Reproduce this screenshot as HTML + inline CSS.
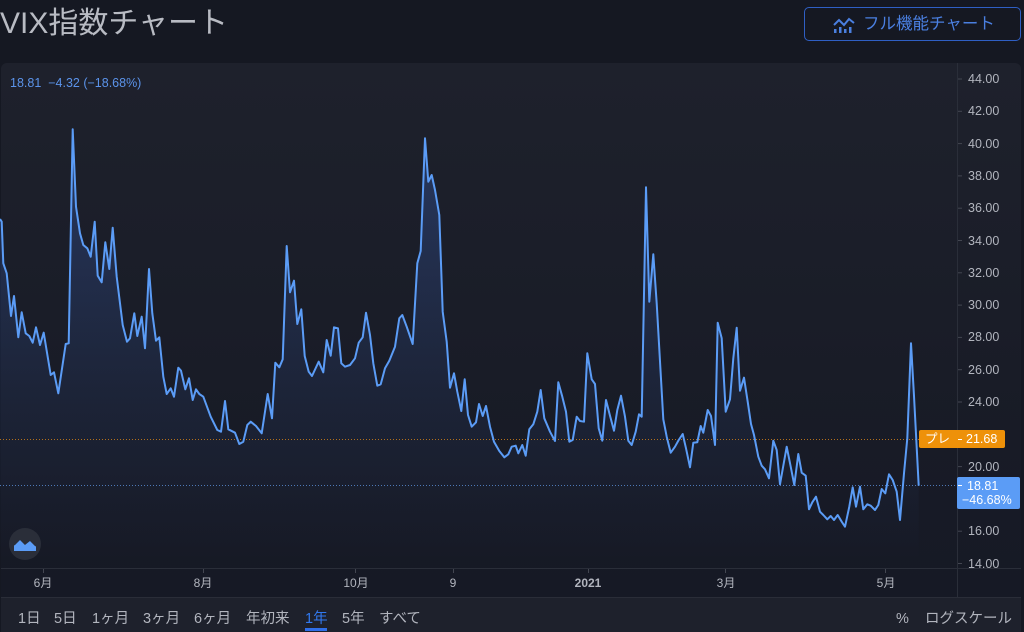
<!DOCTYPE html>
<html>
<head>
<meta charset="utf-8">
<style>
  html,body{margin:0;padding:0;}
  body{width:1024px;height:631px;background:#151822;position:relative;overflow:hidden;
    font-family:"Liberation Sans","Noto Sans CJK JP",sans-serif;}
  .abs{position:absolute;white-space:nowrap;}
  #title{left:0;top:9px;font-size:30px;line-height:30px;color:#b8bbc3;}
  #btn{left:804px;top:7px;width:217px;height:34px;border:1px solid #2f5fc4;border-radius:5px;box-sizing:border-box;}
  #btn span{position:absolute;left:58px;top:7px;font-size:16.5px;line-height:18px;color:#4a7fe0;}
  #panel{left:1px;top:63px;width:1020px;height:534px;border-radius:6px 6px 0 0;
    background:linear-gradient(#1e212c,#181b26 70%,#161925);}
  #bar{left:1px;top:597px;width:1020px;height:34px;background:#1e212c;border-top:1px solid #2a2d38;}
  .rb{position:absolute;top:611px;font-size:14.5px;line-height:16px;color:#b2b5be;}
  .pl{position:absolute;left:968px;font-size:12.5px;line-height:14px;color:#b2b5be;}
  .xl{position:absolute;top:576px;font-size:12px;line-height:14px;color:#b2b5be;transform:translateX(-50%);}
  #readout{left:10px;top:76px;font-size:12.5px;line-height:14px;color:#5b93ea;}
</style>
</head>
<body>
<div class="abs" id="title">VIX指数チャート</div>
<div class="abs" id="btn">
  <svg style="position:absolute;left:28px;top:8px" width="22" height="18" viewBox="0 0 22 18">
    <polyline points="1,9 6,4 11,9 16,3 21,7" fill="none" stroke="#4a7fe0" stroke-width="2"/>
    <rect x="1" y="13" width="2.5" height="4" fill="#4a7fe0"/>
    <rect x="6" y="11" width="2.5" height="6" fill="#4a7fe0"/>
    <rect x="11" y="13" width="2.5" height="4" fill="#4a7fe0"/>
    <rect x="16" y="11" width="2.5" height="6" fill="#4a7fe0"/>
  </svg>
  <span>フル機能チャート</span>
</div>
<div class="abs" id="panel"></div>
<div class="abs" id="bar"></div>

<svg class="abs" style="left:0;top:0" width="1024" height="631" viewBox="0 0 1024 631">
  <defs>
    <linearGradient id="fillg" gradientUnits="userSpaceOnUse" x1="0" y1="130" x2="0" y2="560">
      <stop offset="0" stop-color="#3f6fd8" stop-opacity="0.30"/>
      <stop offset="0.6" stop-color="#3f6fd8" stop-opacity="0.10"/>
      <stop offset="1" stop-color="#3f6fd8" stop-opacity="0.0"/>
    </linearGradient>
  </defs>
  <line x1="957.5" y1="63" x2="957.5" y2="597" stroke="#2a2e39" stroke-width="1"/>
  <line x1="1" y1="568.5" x2="1021" y2="568.5" stroke="#2a2e39" stroke-width="1"/>
  <g stroke="#434651" stroke-width="1">
    <line x1="958" y1="79" x2="962" y2="79"/>
    <line x1="958" y1="111.3" x2="962" y2="111.3"/>
    <line x1="958" y1="143.6" x2="962" y2="143.6"/>
    <line x1="958" y1="175.9" x2="962" y2="175.9"/>
    <line x1="958" y1="208.2" x2="962" y2="208.2"/>
    <line x1="958" y1="240.5" x2="962" y2="240.5"/>
    <line x1="958" y1="272.8" x2="962" y2="272.8"/>
    <line x1="958" y1="305.1" x2="962" y2="305.1"/>
    <line x1="958" y1="337.4" x2="962" y2="337.4"/>
    <line x1="958" y1="369.7" x2="962" y2="369.7"/>
    <line x1="958" y1="402" x2="962" y2="402"/>
    <line x1="958" y1="466.6" x2="962" y2="466.6"/>
    <line x1="958" y1="531.2" x2="962" y2="531.2"/>
    <line x1="958" y1="563.5" x2="962" y2="563.5"/>
  </g>
  <g stroke="#434651" stroke-width="1">
    <line x1="43.5" y1="569" x2="43.5" y2="573"/>
    <line x1="203.5" y1="569" x2="203.5" y2="573"/>
    <line x1="355.5" y1="569" x2="355.5" y2="573"/>
    <line x1="453.5" y1="569" x2="453.5" y2="573"/>
    <line x1="588.5" y1="569" x2="588.5" y2="573"/>
    <line x1="725.5" y1="569" x2="725.5" y2="573"/>
    <line x1="885.5" y1="569" x2="885.5" y2="573"/>
  </g>
  <polygon fill="url(#fillg)" points="0,219 1.7,221.7 3.3,263.3 6.7,273.3 11,316 14,296 18.3,337.3 21.7,312.3 25.7,333.3 29.3,336 32.7,342.7 36,327.3 40,345 43.7,332.7 50.7,375 54,372.3 58.3,393.3 65.7,344 68.7,343.3 72.7,129.3 76,206.7 80,233.3 83.3,245 87.3,248.3 90.7,256.7 94.7,221.7 97.7,275.7 101.7,282.3 105.3,242.3 109.3,269 112.7,227.7 116.7,276.7 122.7,325 127,341.7 130,338.3 134.3,313.3 137.3,336 141.7,316.7 145,348.3 149,269 152.3,313.3 156,340.7 159.3,337.3 163.3,376.7 166.7,394 170.7,388.3 174,396.7 178.3,367.7 181,370.7 185.3,389.3 189,378.3 192.7,400 196,389.3 199.3,394 203.3,396.7 210.7,416.7 217.3,430 221,431.7 225,401 228.3,429.3 235,432.7 239.3,444 243.3,441.7 247.3,425 250.7,421.7 256,426 261.7,433.3 267.7,394 272,418.3 275.3,362.7 279.3,367.3 282.7,359.3 286.7,246 290,292.3 294,280.7 297.3,324 301.3,309.3 304.7,356 308.7,371.7 312,376 318.7,361.7 323.3,372.3 326.7,340 330.7,355.7 334,327.3 338,328.3 341.3,363.3 345,366.7 350,365 355,358.3 358.7,342.7 362.7,337.3 366,312.7 370,335 373.3,363.3 377.3,385.7 380.7,384.3 385,368.3 389.3,360.7 395,346.7 399.3,318.3 402.3,315 406.7,326.7 412.7,344 417.3,263.3 420.7,251 425,138.3 428.3,181.7 431.7,175 435,190 439.3,215 442.7,311.7 446.7,341.7 450,387.7 454,373.3 457.3,391.7 461.3,411 464.7,379.3 468,415 471.7,426.7 476,422.3 479,404 482.7,416 486,406 490,426.7 494,441.7 499.3,451 504.3,457.3 508.3,454.3 511.7,446.7 515.7,445.7 518.3,453.3 522.3,445 525.7,455.7 529.3,429.3 533.3,424.3 537.3,411.7 540.7,390 544.3,418.3 550,431.7 555,441 558.3,382.3 562.3,396.7 566,411.7 569.3,441.7 572.7,440 576.7,416.7 580,421 584,421.7 587.3,353.3 591.7,379.3 595,384 598.7,428.3 602.3,440.7 606,400 610,415.7 614,430.7 617.3,410 621,395.7 625,416.7 628.3,440.7 631.7,445 635.7,431.7 639,414.3 641.7,416.7 646,187.3 649.3,301.7 653.3,254.3 656.7,303.3 663.3,419.3 666.7,436.7 670.7,452.7 675,446.7 678.7,440 682.7,434 686,448.3 690,467.3 693.3,442.7 697.3,442.3 700.7,426 703.3,432.7 707.7,410 711,416 715,445 717.7,322.7 721.7,338.3 725.7,411.7 730,399.3 733.3,358.3 736.7,327.7 740,390.7 744,377.7 747.7,401.7 751,424 754,435 758.3,456.7 761.7,465.7 765,469.3 769,478.3 773.3,440.7 776.7,450 780,484.3 786.7,446.7 790.7,466.7 794.3,485 798.3,454 801.7,472.7 805.7,475.7 809,509.3 812.3,502.3 816,496.7 820,511.7 823.3,515 827.3,519.3 830.7,516 834,520 837.7,515 841.7,521.7 845,526.7 849.3,506.7 852.7,487.3 856,506.7 860,486.7 863.3,509.3 867.3,504.3 870.7,505.7 875,510 878.3,505 881.7,489 885.3,493.3 889,474.3 892.7,480 896.7,491.7 900,520 904,473.3 907.3,438.3 911,343.3 914,396 918.7,485.7 918.7,567 0,567"/>
  <line x1="0" y1="439.5" x2="919" y2="439.5" stroke="#b3701c" stroke-width="1" stroke-dasharray="1 2"/>
  <line x1="0" y1="485.5" x2="957" y2="485.5" stroke="#5b8fd8" stroke-width="1" stroke-dasharray="1 2" opacity="0.8"/>
  <polyline fill="none" stroke="#5b9cf6" stroke-width="2" stroke-linejoin="round" points="0,219 1.7,221.7 3.3,263.3 6.7,273.3 11,316 14,296 18.3,337.3 21.7,312.3 25.7,333.3 29.3,336 32.7,342.7 36,327.3 40,345 43.7,332.7 50.7,375 54,372.3 58.3,393.3 65.7,344 68.7,343.3 72.7,129.3 76,206.7 80,233.3 83.3,245 87.3,248.3 90.7,256.7 94.7,221.7 97.7,275.7 101.7,282.3 105.3,242.3 109.3,269 112.7,227.7 116.7,276.7 122.7,325 127,341.7 130,338.3 134.3,313.3 137.3,336 141.7,316.7 145,348.3 149,269 152.3,313.3 156,340.7 159.3,337.3 163.3,376.7 166.7,394 170.7,388.3 174,396.7 178.3,367.7 181,370.7 185.3,389.3 189,378.3 192.7,400 196,389.3 199.3,394 203.3,396.7 210.7,416.7 217.3,430 221,431.7 225,401 228.3,429.3 235,432.7 239.3,444 243.3,441.7 247.3,425 250.7,421.7 256,426 261.7,433.3 267.7,394 272,418.3 275.3,362.7 279.3,367.3 282.7,359.3 286.7,246 290,292.3 294,280.7 297.3,324 301.3,309.3 304.7,356 308.7,371.7 312,376 318.7,361.7 323.3,372.3 326.7,340 330.7,355.7 334,327.3 338,328.3 341.3,363.3 345,366.7 350,365 355,358.3 358.7,342.7 362.7,337.3 366,312.7 370,335 373.3,363.3 377.3,385.7 380.7,384.3 385,368.3 389.3,360.7 395,346.7 399.3,318.3 402.3,315 406.7,326.7 412.7,344 417.3,263.3 420.7,251 425,138.3 428.3,181.7 431.7,175 435,190 439.3,215 442.7,311.7 446.7,341.7 450,387.7 454,373.3 457.3,391.7 461.3,411 464.7,379.3 468,415 471.7,426.7 476,422.3 479,404 482.7,416 486,406 490,426.7 494,441.7 499.3,451 504.3,457.3 508.3,454.3 511.7,446.7 515.7,445.7 518.3,453.3 522.3,445 525.7,455.7 529.3,429.3 533.3,424.3 537.3,411.7 540.7,390 544.3,418.3 550,431.7 555,441 558.3,382.3 562.3,396.7 566,411.7 569.3,441.7 572.7,440 576.7,416.7 580,421 584,421.7 587.3,353.3 591.7,379.3 595,384 598.7,428.3 602.3,440.7 606,400 610,415.7 614,430.7 617.3,410 621,395.7 625,416.7 628.3,440.7 631.7,445 635.7,431.7 639,414.3 641.7,416.7 646,187.3 649.3,301.7 653.3,254.3 656.7,303.3 663.3,419.3 666.7,436.7 670.7,452.7 675,446.7 678.7,440 682.7,434 686,448.3 690,467.3 693.3,442.7 697.3,442.3 700.7,426 703.3,432.7 707.7,410 711,416 715,445 717.7,322.7 721.7,338.3 725.7,411.7 730,399.3 733.3,358.3 736.7,327.7 740,390.7 744,377.7 747.7,401.7 751,424 754,435 758.3,456.7 761.7,465.7 765,469.3 769,478.3 773.3,440.7 776.7,450 780,484.3 786.7,446.7 790.7,466.7 794.3,485 798.3,454 801.7,472.7 805.7,475.7 809,509.3 812.3,502.3 816,496.7 820,511.7 823.3,515 827.3,519.3 830.7,516 834,520 837.7,515 841.7,521.7 845,526.7 849.3,506.7 852.7,487.3 856,506.7 860,486.7 863.3,509.3 867.3,504.3 870.7,505.7 875,510 878.3,505 881.7,489 885.3,493.3 889,474.3 892.7,480 896.7,491.7 900,520 904,473.3 907.3,438.3 911,343.3 914,396 918.7,485.7"/>
  <rect x="919" y="430" width="86" height="18" rx="2" fill="#ee9109"/>
  <line x1="958" y1="439.5" x2="962" y2="439.5" stroke="#ffffff" stroke-width="1"/>
  <rect x="957" y="477" width="63" height="32" rx="2" fill="#5b9cf6"/>
  <line x1="958" y1="485.5" x2="962" y2="485.5" stroke="#ffffff" stroke-width="1"/>
  <circle cx="25" cy="544" r="16" fill="#2a2e39"/>
  <path d="M14,551 L14,545 L20,539 L25,544 L30,540 L36,546 L36,551 Z" fill="#5b9cf6"/>
  <polyline points="14,545 20,539 25,544 30,540 36,546" fill="none" stroke="#2a2e39" stroke-width="1.5"/>
  <rect x="305" y="628" width="22" height="3" fill="#2f6ee8"/>
</svg>

<div class="abs" id="readout">18.81&nbsp; −4.32 (−18.68%)</div>

<div class="pl" style="top:72px">44.00</div>
<div class="pl" style="top:104.3px">42.00</div>
<div class="pl" style="top:136.6px">40.00</div>
<div class="pl" style="top:168.9px">38.00</div>
<div class="pl" style="top:201.2px">36.00</div>
<div class="pl" style="top:233.5px">34.00</div>
<div class="pl" style="top:265.8px">32.00</div>
<div class="pl" style="top:298.1px">30.00</div>
<div class="pl" style="top:330.4px">28.00</div>
<div class="pl" style="top:362.7px">26.00</div>
<div class="pl" style="top:395px">24.00</div>
<div class="pl" style="top:459.6px">20.00</div>
<div class="pl" style="top:524.2px">16.00</div>
<div class="pl" style="top:556.5px">14.00</div>

<div class="abs" style="left:925px;top:432px;font-size:12.5px;line-height:14px;color:#fff;">プレ</div>
<div class="abs" style="left:966px;top:432px;font-size:12.5px;line-height:14px;color:#fff;">21.68</div>
<div class="abs" style="left:967px;top:479px;font-size:12.5px;line-height:14px;color:#fff;">18.81</div>
<div class="abs" style="left:962px;top:493px;font-size:12.5px;line-height:14px;color:#fff;">−46.68%</div>

<div class="xl" style="left:43px">6月</div>
<div class="xl" style="left:203px">8月</div>
<div class="xl" style="left:356px">10月</div>
<div class="xl" style="left:453px">9</div>
<div class="xl" style="left:588px;font-weight:bold">2021</div>
<div class="xl" style="left:726px">3月</div>
<div class="xl" style="left:886px">5月</div>

<div class="rb" style="left:18px">1日</div>
<div class="rb" style="left:54px">5日</div>
<div class="rb" style="left:92px">1ヶ月</div>
<div class="rb" style="left:143px">3ヶ月</div>
<div class="rb" style="left:194px">6ヶ月</div>
<div class="rb" style="left:246px">年初来</div>
<div class="rb" style="left:305px;color:#3179f0">1年</div>
<div class="rb" style="left:342px">5年</div>
<div class="rb" style="left:379px">すべて</div>
<div class="rb" style="left:896px">%</div>
<div class="rb" style="left:925px">ログスケール</div>
</body>
</html>
